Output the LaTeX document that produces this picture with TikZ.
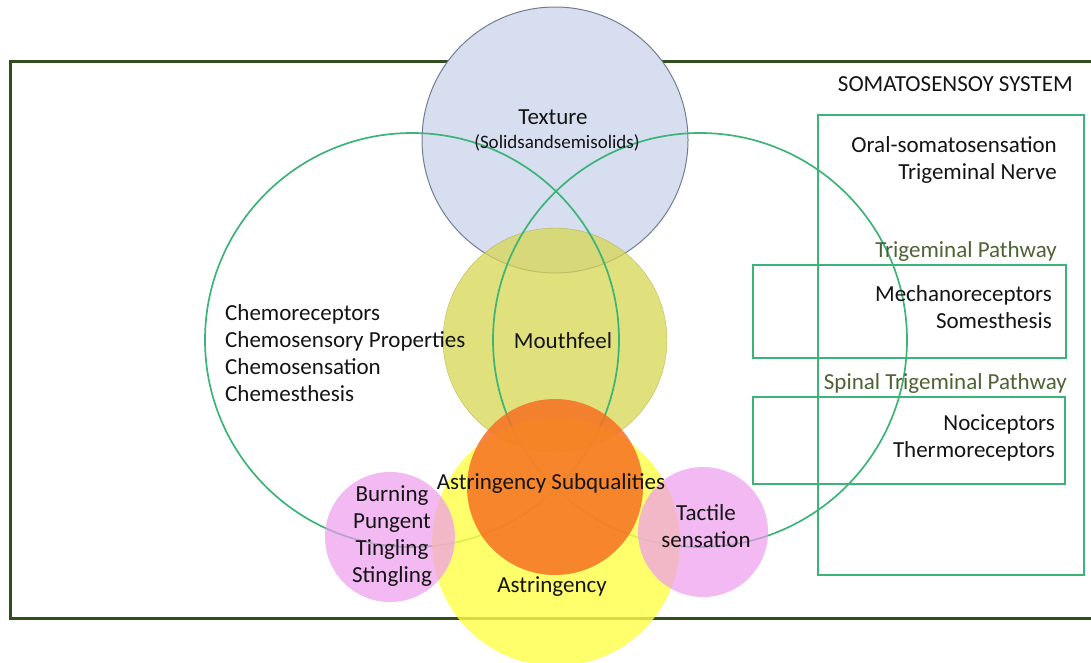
\documentclass[tikz,border=0pt]{standalone}
\usepackage{fontspec}
\setmainfont{Carlito}
\definecolor{framegreen}{RGB}{50,78,30}
\definecolor{ringgreen}{RGB}{60,180,120}
\definecolor{pathgreen}{RGB}{78,98,52}
\definecolor{texblue}{RGB}{214,222,240}
\definecolor{texedge}{RGB}{115,125,145}
\definecolor{mouthol}{RGB}{214,214,82}
\definecolor{astyel}{RGB}{255,255,70}
\definecolor{subor}{RGB}{245,112,32}
\definecolor{tripink}{RGB}{238,155,238}
\definecolor{inktext}{RGB}{20,20,20}

\begin{document}
\begin{tikzpicture}[x=1pt,y=-1pt,
    txt/.style={font=\fontsize{23}{27}\selectfont, text=inktext, inner sep=0pt},
    ring/.style={draw=ringgreen, line width=1.7pt},
    pathbox/.style={draw=ringgreen, line width=1.6pt},
    blob/.style={fill opacity=#1, draw opacity=#1}]
	\useasboundingbox (0,0) rectangle (1091,662);

	\draw [framegreen, line width=3pt] (1100,61) -- (10,61) -- (10,618) -- (1100,618);

	\draw [fill=texblue, draw=texedge, line width=1pt] (555,140) circle (133pt);
	\draw [fill=mouthol, draw=mouthol!80!black, blob=0.75] (555,340) circle (112pt);

	\draw [ring] (412,340) circle (207pt);
	\draw [ring] (700,340) circle (207pt);

	\draw [fill=astyel, draw=none, blob=0.8] (556,542) circle (124pt);
	\draw [fill=subor, draw=none, blob=0.85] (555,487) circle (88pt);
	\draw [fill=tripink, draw=none, blob=0.7] (390,537) circle (65pt);
	\draw [fill=tripink, draw=none, blob=0.7] (703,532) circle (65pt);

	\draw [pathbox] (818,115) rectangle (1084,575);
	\draw [pathbox] (753,265) rectangle (1066,358);
	\draw [pathbox] (753,397) rectangle (1065,484);

	\draw (1073,84) node[txt, anchor=east] (somato) {SOMATOSENSOY SYSTEM};
	\draw (1057,160) node[txt, anchor=east, align=right] (oral) {Oral-somatosensation\\Trigeminal Nerve};
	\draw (1057,251) node[txt, anchor=east, text=pathgreen] (trigpath) {Trigeminal Pathway};
	\draw (1052,307) node[txt, anchor=east, align=right] (mechano) {Mechanoreceptors\\Somesthesis};
	\draw (1067,383) node[txt, anchor=east, text=pathgreen] (spinal) {Spinal Trigeminal Pathway};
	\draw (1055,438) node[txt, anchor=east, align=right] (noci) {Nociceptors\\Thermoreceptors};

	\draw (225,353) node[txt, anchor=west, align=left] (chemo) {Chemoreceptors\\Chemosensory Properties\\Chemosensation\\Chemesthesis};

	\draw (553,117) node[txt] (texture) {Texture};
	\draw (557,143) node[txt, font=\fontsize{19}{22}\selectfont] (solids) {(Solidsandsemisolids)};
	\draw (563,341) node[txt] (mouthfeel) {Mouthfeel};
	\draw (551,483) node[txt] (subqual) {Astringency Subqualities};
	\draw (552,587) node[txt] (astring) {Astringency};
	\draw (392,536) node[txt, align=center] (burning) {Burning\\Pungent\\Tingling\\Stingling};
	\draw (706,526) node[txt, align=center] (tactile) {Tactile\\sensation};
\end{tikzpicture}
\end{document}
